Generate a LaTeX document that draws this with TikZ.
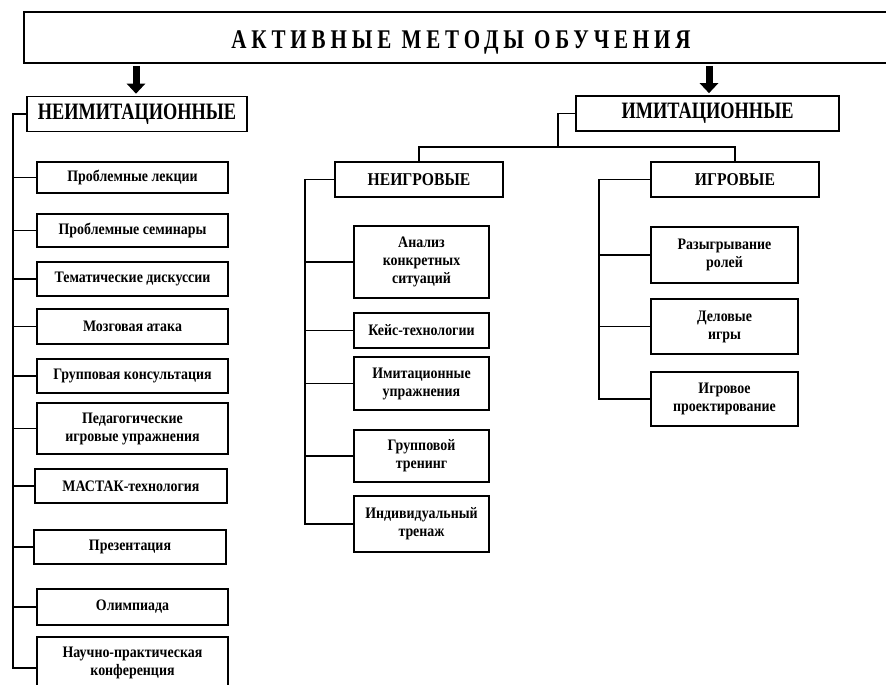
\documentclass[tikz,border=0pt]{standalone}
\usepackage{fontspec}
\setmainfont{Liberation Serif}[FakeStretch=0.87]
\usetikzlibrary{arrows.meta}
\begin{document}
\begin{tikzpicture}[
  x=1pt,y=-1pt,
  method/.style={draw=black,line width=1.6pt,align=center,inner sep=0pt,
                 font=\fontsize{16}{18}\selectfont\bfseries},
  group/.style={draw=black,line width=1.6pt,inner sep=0pt,minimum height=35pt,
                font=\fontsize{23.5}{25}\selectfont\bfseries\addfontfeature{FakeStretch=0.78}},
  subgroup/.style={group,minimum width=168pt,
                font=\fontsize{18}{20}\selectfont\bfseries},
  link/.style={draw=black,line width=1.3pt},
  bigarrow/.style={-{Triangle[length=10pt,width=18pt]},line width=7pt,
                   shorten >=2pt}
]
\useasboundingbox (0,0) rectangle (886,685);
\clip (0,0) rectangle (886,685);

\node[draw=black,line width=1.8pt,minimum width=874pt,minimum height=51pt,
      inner sep=0pt,text height=28pt,font=\fontsize{27}{29}\selectfont\bfseries
      \addfontfeature{FakeStretch=0.78,LetterSpace=18}]
  (title) at (461,37.5) {АКТИВНЫЕ МЕТОДЫ ОБУЧЕНИЯ};

\node[group,minimum width=220pt] (neim) at (137,114) {НЕИМИТАЦИОННЫЕ};
\node[group,minimum width=263pt] (imit) at (707.5,113.5) {ИМИТАЦИОННЫЕ};
\node[subgroup] (ngame) at (419,179.5) {НЕИГРОВЫЕ};
\node[subgroup] (game) at (735,179.5) {ИГРОВЫЕ};

\coordinate (la) at (136,66);
\coordinate (ra) at (709,66);
\draw[bigarrow] (la) -- (la |- neim.north);
\draw[bigarrow] (ra) -- (ra |- imit.north);

\node[method,minimum width=191pt,minimum height=31pt] (lec) at (132.5,177.5) {Проблемные лекции};
\node[method,minimum width=191pt,minimum height=33pt] (sem) at (132.5,230.5) {Проблемные семинары};
\node[method,minimum width=191pt,minimum height=34pt] (disc) at (132.5,279) {Тематические дискуссии};
\node[method,minimum width=191pt,minimum height=35pt] (brain) at (132.5,326.5) {Мозговая атака};
\node[method,minimum width=191pt,minimum height=34pt] (cons) at (132.5,376) {Групповая консультация};
\node[method,minimum width=191pt,minimum height=51pt] (ped) at (132.5,428.5) {Педагогические\\игровые упражнения};
\node[method,minimum width=192pt,minimum height=34pt] (mastak) at (131,486) {МАСТАК-технология};
\node[method,minimum width=192pt,minimum height=34pt] (pres) at (130,547) {Презентация};
\node[method,minimum width=191pt,minimum height=36pt] (olymp) at (132.5,607) {Олимпиада};
\node[method,minimum width=191pt,minimum height=62pt,text depth=14pt] (conf) at (132.5,668) {Научно-практическая\\конференция};

\node[method,minimum width=135pt,minimum height=72pt] (anal) at (421.5,262) {Анализ\\конкретных\\ситуаций};
\node[method,minimum width=135pt,minimum height=35pt] (case) at (421.5,330.5) {Кейс-технологии};
\node[method,minimum width=135pt,minimum height=53pt] (imex) at (421.5,383.5) {Имитационные\\упражнения};
\node[method,minimum width=135pt,minimum height=52pt] (grtr) at (421.5,456) {Групповой\\тренинг};
\node[method,minimum width=135pt,minimum height=56pt] (indiv) at (421.5,524) {Индивидуальный\\тренаж};

\node[method,minimum width=147pt,minimum height=56pt] (roles) at (724.5,255) {Разыгрывание\\ролей};
\node[method,minimum width=147pt,minimum height=55pt] (biz) at (724.5,326.5) {Деловые\\игры};
\node[method,minimum width=147pt,minimum height=54pt] (proj) at (724.5,399) {Игровое\\проектирование};

\coordinate (ltrunk) at (13,0);
\coordinate (mtrunk) at (305,0);
\coordinate (rtrunk) at (599,0);
\coordinate (hub) at (558,147);

\draw[link] (neim.west) -- (ltrunk |- neim.west) -- (ltrunk |- conf.west) -- (conf.west);
\foreach \b in {lec,sem,disc,brain,cons,ped,mastak,pres,olymp}
  \draw[link] (ltrunk |- \b.west) -- (\b.west);

\draw[link] (imit.west) -| (hub);
\draw[link] (ngame.north) |- (hub) -| (game.north);

\draw[link] (ngame.west) -- (mtrunk |- ngame.west) -- (mtrunk |- indiv.west) -- (indiv.west);
\foreach \b in {anal,case,imex,grtr}
  \draw[link] (mtrunk |- \b.west) -- (\b.west);

\draw[link] (game.west) -- (rtrunk |- game.west) -- (rtrunk |- proj.west) -- (proj.west);
\foreach \b in {roles,biz}
  \draw[link] (rtrunk |- \b.west) -- (\b.west);
\end{tikzpicture}
\end{document}
